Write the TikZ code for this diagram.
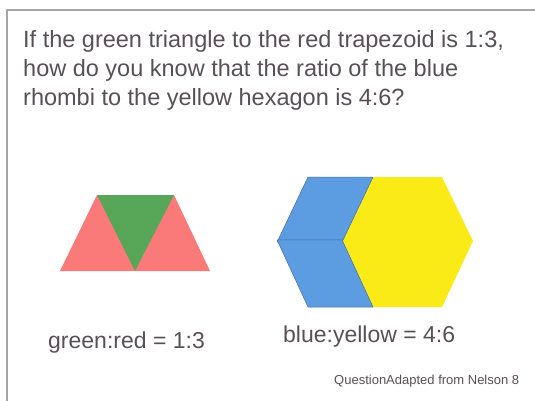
\documentclass[tikz,border=0pt]{standalone}
\usepackage{fontspec}
\setmainfont{Liberation Sans}
\definecolor{inkgray}{RGB}{88,80,86}
\definecolor{framegray}{RGB}{165,165,165}
\definecolor{trapred}{RGB}{250,122,122}
\definecolor{trigreen}{RGB}{88,166,88}
\definecolor{rhomblue}{RGB}{92,156,224}
\definecolor{rhomedge}{RGB}{70,110,170}
\definecolor{hexyellow}{RGB}{250,234,22}
\tikzset{
  question/.style={anchor=base west,inner sep=0pt,text=inkgray,font=\fontsize{23.5}{29}\selectfont},
  ratio/.style={anchor=base west,inner sep=0pt,text=inkgray,font=\fontsize{23}{28}\selectfont},
  credit/.style={anchor=base west,inner sep=0pt,text=inkgray,font=\fontsize{13}{15}\selectfont}
}
\begin{document}
\begin{tikzpicture}[x=1pt,y=-1pt,line join=round]
  \useasboundingbox (0,0) rectangle (535,401);
  % frame
  \draw[framegray,line width=1.4pt] (7,401) -- (7,10) -- (535,10);
  % question
  \node[question] (q1) at (23,48) {If the green triangle to the red trapezoid is 1:3,};
  \node[question] (q2) at (23,77) {how do you know that the ratio of the blue};
  \node[question] (q3) at (23,106) {rhombi to the yellow hexagon is 4:6?};
  % trapezoid
  \coordinate (BL) at (60,271);
  \coordinate (BR) at (210,271);
  \coordinate (TL) at (97,195);
  \coordinate (TR) at (174,195);
  \coordinate (BM) at (135,271);
  \fill[trapred] (BL) -- (TL) -- (TR) -- (BR) -- cycle;
  \fill[trigreen] (TL) -- (TR) -- (BM) -- cycle;
  % hexagon and rhombi
  \coordinate (HL) at (277,241);
  \coordinate (HC) at (342,241);
  \coordinate (HTa) at (308,177);
  \coordinate (HTb) at (373,177);
  \coordinate (HTc) at (442,177);
  \coordinate (HR) at (473,241);
  \coordinate (HBa) at (308,307);
  \coordinate (HBb) at (373,307);
  \coordinate (HBc) at (442,307);
  \fill[hexyellow] (HC) -- (HTb) -- (HTc) -- (HR) -- (HBc) -- (HBb) -- cycle;
  \filldraw[fill=rhomblue,draw=rhomedge,line width=0.5pt]
    ([yshift=-1.2pt]HL) -- (HTa) -- (HTb) -- ([yshift=-1.2pt]HC) -- cycle;
  \filldraw[fill=rhomblue,draw=rhomedge,line width=0.5pt]
    ([yshift=1.2pt]HL) -- ([yshift=1.2pt]HC) -- (HBb) -- (HBa) -- cycle;
  % ratios
  \node[ratio] (gr) at (48,348) {green:red = 1:3};
  \node[ratio] (by) at (283,342) {blue:yellow = 4:6};
  \node[credit] (src) at (334,384) {QuestionAdapted from Nelson 8};
\end{tikzpicture}
\end{document}
